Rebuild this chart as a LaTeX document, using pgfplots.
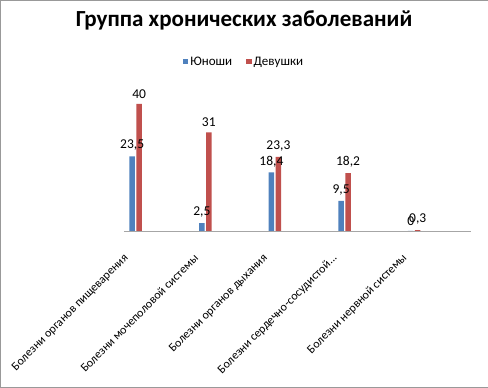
\documentclass[border=0pt]{standalone}
\usepackage{pgfplots}
\pgfplotsset{compat=1.18}
\usepackage{fontspec}
\setmainfont{Carlito}
\definecolor{cblue}{HTML}{4F81BD}
\definecolor{cred}{HTML}{C0504D}
\begin{document}
\begin{tikzpicture}[x=1pt,y=1pt]
\begin{axis}[
  at={(124pt,157pt)}, anchor=south west,
  scale only axis, width=347pt, height=141pt,
  ybar=1.5pt, bar width=5.5pt,
  ymin=0, ymax=44.4,
  xmin=-0.17, xmax=4.82,
  axis x line*=bottom, axis y line=none,
  x axis line style={gray!70, -},
  xtick={0,1,2,3,4}, xtick style={draw=none},
  xticklabels={{Болезни органов пищеварения},{Болезни мочеполовой системы},{Болезни органов дыхания},{Болезни сердечно-сосудистой{.}{.}{.}},{Болезни нервной системы}},
  xticklabel style={xshift=-9pt, yshift=-21pt, rotate=45, anchor=east, font=\fontsize{12}{14}\selectfont, inner sep=0pt},
  clip=false,
  nodes near coords,
  /pgf/number format/use comma,
  /pgf/number format/assume math mode=true,
  every node near coord/.append style={font=\fontsize{13.5}{15}\selectfont, yshift=2pt},
  title={\fontsize{23}{26}\selectfont\bfseries Группа хронических заболеваний},
  title style={at={(0.346,1.447)}, anchor=center},
  legend columns=2,
  legend style={at={(0.346,1.199)}, anchor=center, draw=none, font=\fontsize{13}{15}\selectfont, /tikz/every even column/.append style={column sep=12pt}},
  legend image code/.code={\fill[#1] (0pt,-2.7pt) rectangle (5.4pt,2.7pt);},
]
\addplot[fill=cblue, draw=none] coordinates {(0,23.5) (1,2.5) (2,18.4) (3,9.5) (4,0)};
\addplot[fill=cred, draw=none] coordinates {(0,40) (1,31) (2,23.3) (3,18.2) (4,0.3)};
\legend{Юноши, Девушки}
\end{axis}
\pgfresetboundingbox
\draw[gray!80] (0.5,0.5) rectangle (487.5,387.5);
\end{tikzpicture}
\end{document}
